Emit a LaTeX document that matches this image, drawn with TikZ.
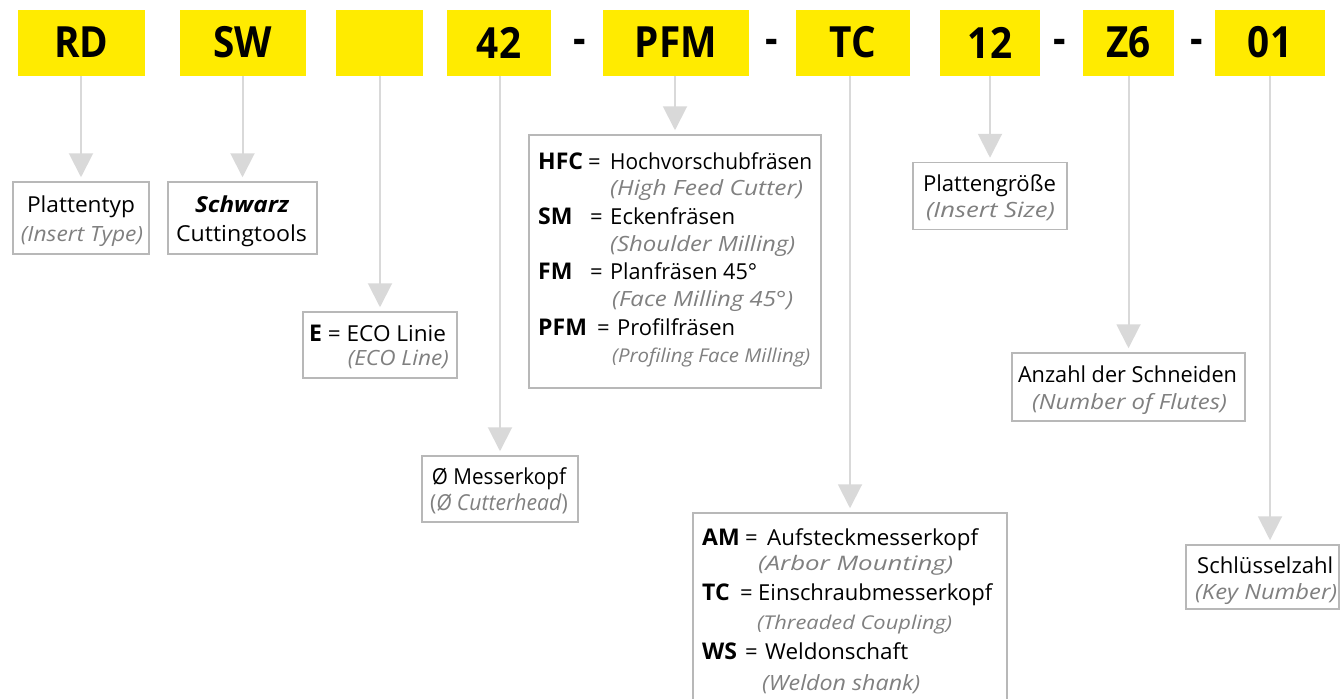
\documentclass[tikz,border=0pt]{standalone}
\usepackage{fontspec}
\setmainfont{Open Sans}
\usetikzlibrary{arrows.meta}
\definecolor{codeyellow}{HTML}{FFEB00}
\definecolor{linegray}{HTML}{D9D9D9}
\definecolor{boxgray}{HTML}{B8B8B8}
\definecolor{subgray}{HTML}{808080}
\newcommand\codefont{\fontsize{43}{43}\selectfont\bfseries}
\newcommand\bodyfont{\fontsize{22}{26}\selectfont}
\newcommand\subfont[1]{\fontsize{#1}{#1}\selectfont\itshape}
\newcommand\fw[2]{\resizebox{#1pt}{\height}{#2}}
\newcommand\lbl[1]{{\fontsize{23}{26}\selectfont\bfseries #1}}
\tikzset{
  codebox/.style={fill=codeyellow, draw=none, inner sep=0, minimum height=66pt, font=\codefont},
  dashtxt/.style={inner sep=0, anchor=base, font=\codefont},
  descbox/.style={draw=boxgray, line width=1.5pt, fill=white, inner sep=0},
  txt/.style={inner sep=0, anchor=base west, font=\bodyfont},
  ctxt/.style={inner sep=0, anchor=base, font=\bodyfont},
  rtxt/.style={inner sep=0, anchor=base east, font=\bodyfont},
  sub/.style={text=subgray, font=\subfont{21}},
  conn/.style={draw=linegray, line width=2pt, -{Triangle[width=24pt,length=24pt,fill=linegray]}, shorten >=4pt},
}
\begin{document}
\begin{tikzpicture}[x=1pt,y=-1pt]
\useasboundingbox (0,0) rectangle (1342,699);
% code boxes
\node[codebox, minimum width=127pt] (rd) at (81.5,42.5) {\scalebox{0.9}[1]{RD}};
\node[codebox, minimum width=126pt] (sw) at (243,42.5) {\scalebox{0.9}[1]{SW}};
\node[codebox, minimum width=87pt] (eco) at (379.5,42.5) {};
\node[codebox, minimum width=104pt] (dia) at (499,42.5) {\scalebox{0.9}[1]{42}};
\node[codebox, minimum width=146pt] (pfm) at (676,42.5) {\scalebox{0.9}[1]{PFM}};
\node[codebox, minimum width=114pt] (tc) at (853,42.5) {\scalebox{0.9}[1]{TC}};
\node[codebox, minimum width=100pt] (size) at (990,42.5) {\scalebox{0.9}[1]{12}};
\node[codebox, minimum width=91pt] (z6) at (1128.5,42.5) {\scalebox{0.9}[1]{Z6}};
\node[codebox, minimum width=110pt] (key) at (1270,42.5) {\scalebox{0.9}[1]{01}};
% hyphens
\node[dashtxt] (h1) at (580,53) {\scalebox{0.9}[1]{-}};
\node[dashtxt] (h2) at (771.5,53) {\scalebox{0.9}[1]{-}};
\node[dashtxt] (h3) at (1060,53) {\scalebox{0.9}[1]{-}};
\node[dashtxt] (h4) at (1197,53) {\scalebox{0.9}[1]{-}};
% description boxes
\node[descbox, minimum width=136pt, minimum height=72pt] (drd) at (81,218) {};
\node[descbox, minimum width=149pt, minimum height=72pt] (dsw) at (242.5,218) {};
\node[descbox, minimum width=154pt, minimum height=66pt] (deco) at (380,345) {};
\node[descbox, minimum width=156pt, minimum height=66pt] (ddia) at (500,489) {};
\node[descbox, minimum width=292pt, minimum height=253pt] (dpfm) at (675,261.5) {};
\node[descbox, minimum width=314pt, minimum height=189pt] (dtc) at (850,607.5) {};
\node[descbox, minimum width=154pt, minimum height=67pt] (dsize) at (990,196) {};
\node[descbox, minimum width=233pt, minimum height=68pt] (dz6) at (1128.5,387) {};
\node[descbox, minimum width=153pt, minimum height=64pt] (dkey) at (1262.5,577) {};
% connectors
\draw[conn] (drd.north |- rd.south) -- (drd.north);
\draw[conn] (dsw.north |- sw.south) -- (dsw.north);
\draw[conn] (deco.north |- eco.south) -- (deco.north);
\draw[conn] (ddia.north |- dia.south) -- (ddia.north);
\draw[conn] (dpfm.north |- pfm.south) -- (dpfm.north);
\draw[conn] (dtc.north |- tc.south) -- (dtc.north);
\draw[conn] (dsize.north |- size.south) -- (dsize.north);
\draw[conn] (z6.south) -- (z6.south |- dz6.north);
\draw[conn] (key.south) -- (key.south |- dkey.north);
% left boxes
\node[ctxt] (t1a) at (81,212) {\fw{108}{Plattentyp}};
\node[ctxt, sub] (t1b) at (82,241) {\fw{122}{(Insert Type)}};
\node[ctxt] (t2a) at (242,212) {\fw{94}{\bfseries\itshape Schwarz}};
\node[ctxt] (t2b) at (241.5,241) {\fw{131}{Cuttingtools}};
\node[txt] (t3a) at (309,341) {\lbl{E}\fw{124}{ = ECO Linie}};
\node[rtxt, sub] (t3b) at (449,365) {\fw{101}{(ECO Line)}};
\node[ctxt] (t4a) at (499,484) {\fw{134}{Ø Messerkopf}};
\node[ctxt, text=subgray] (t4b) at (499,510) {\fw{138}{(\textit{Ø Cutterhead})}};
% PFM box
\node[txt] (p1) at (538,169) {\makebox[50pt][l]{\lbl{HFC}}\makebox[22pt][l]{=}\fw{202}{Hochvorschubfräsen}};
\node[txt, sub] (p1s) at (610,195) {\fw{193}{(High Feed Cutter)}};
\node[txt] (p2) at (538,224) {\makebox[52pt][l]{\lbl{SM}}\makebox[20pt][l]{=}\fw{125}{Eckenfräsen}};
\node[txt, sub] (p2s) at (610,251) {\fw{185}{(Shoulder Milling)}};
\node[txt] (p3) at (538,279) {\makebox[52pt][l]{\lbl{FM}}\makebox[20pt][l]{=}\fw{147}{Planfräsen 45°}};
\node[txt, sub] (p3s) at (612,306) {\fw{181}{(Face Milling 45°)}};
\node[txt] (p4) at (538,335) {\makebox[59pt][l]{\lbl{PFM}}\makebox[20pt][l]{=}\fw{118}{Profilfräsen}};
\node[txt, sub, font=\subfont{19}] (p4s) at (612,362) {\fw{198}{(Profiling Face Milling)}};
% TC box
\node[txt] (c1) at (702,545) {\makebox[43pt][l]{\lbl{AM}}\makebox[22pt][l]{=}\fw{211}{Aufsteckmesserkopf}};
\node[txt, sub, font=\subfont{20}] (c1s) at (758,570) {\fw{195}{(Arbor Mounting)}};
\node[txt] (c2) at (702,600) {\makebox[38pt][l]{\lbl{TC}}\makebox[18pt][l]{=}\fw{234}{Einschraubmesserkopf}};
\node[txt, sub, font=\subfont{19}] (c2s) at (757,629) {\fw{195}{(Threaded Coupling)}};
\node[txt] (c3) at (702,659) {\makebox[43pt][l]{\lbl{WS}}\makebox[20pt][l]{=}\fw{143}{Weldonschaft}};
\node[txt, sub] (c3s) at (762,690) {\fw{158}{(Weldon shank)}};
% right boxes
\node[ctxt] (s1) at (989.5,191) {\fw{133}{Plattengröße}};
\node[ctxt, sub] (s2) at (990.5,217) {\fw{129}{(Insert Size)}};
\node[ctxt] (z1) at (1127.5,382) {\fw{219}{Anzahl der Schneiden}};
\node[ctxt, sub] (z2) at (1129.5,409) {\fw{195}{(Number of Flutes)}};
\node[txt] (k1) at (1197,573) {\fw{136}{Schlüsselzahl}};
\node[txt, sub] (k2) at (1195,599) {\fw{142}{(Key Number)}};
\end{tikzpicture}
\end{document}
